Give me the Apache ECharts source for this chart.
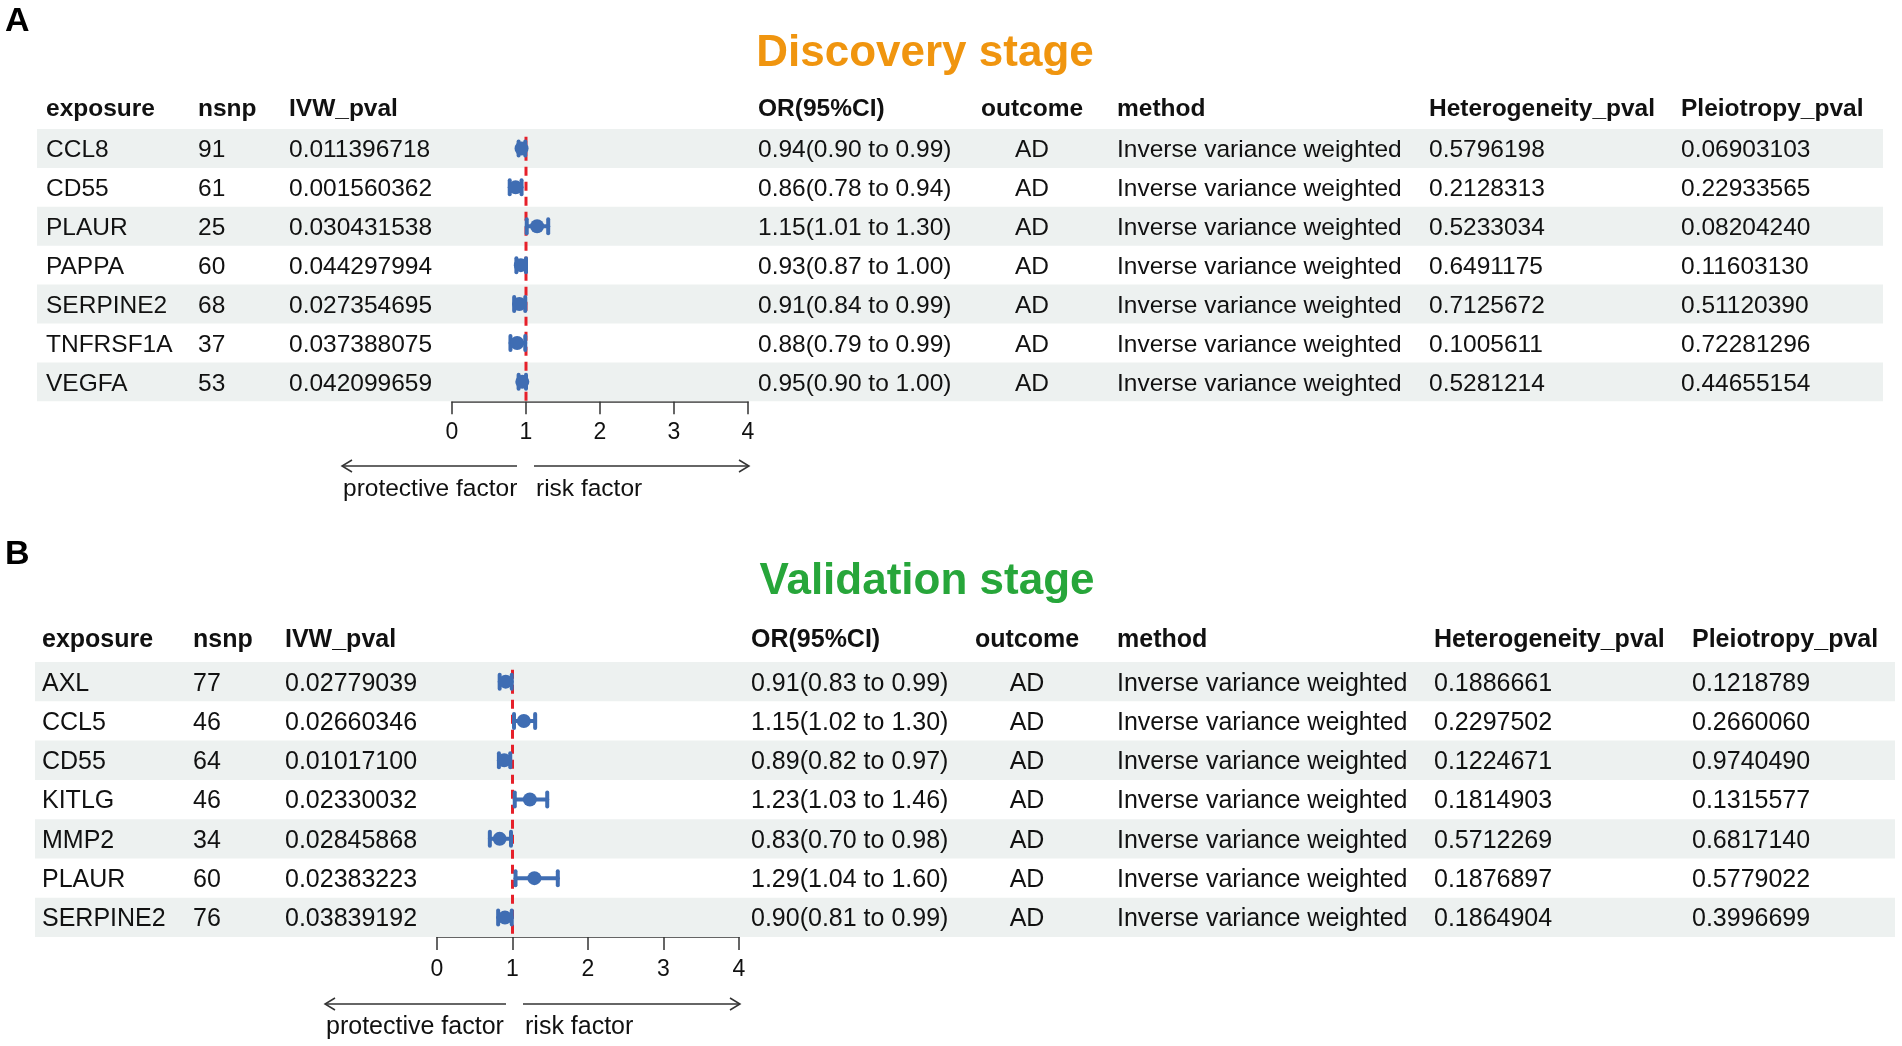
<!DOCTYPE html>
<html>
<head>
<meta charset="utf-8">
<title>MR forest tables</title>
<script src="https://cdn.jsdelivr.net/npm/echarts@6.0.0/dist/echarts.min.js"></script>
<style>
    html, body { margin: 0; padding: 0; background: #ffffff; }
    #main { width: 1902px; height: 1046px; }
</style>
</head>
<body>
<div id="main"></div>
<script>
    // ---- A: discovery stage ----
    var exposureA = ['CCL8', 'CD55', 'PLAUR', 'PAPPA', 'SERPINE2', 'TNFRSF1A', 'VEGFA'];
    var nsnpA = [91, 61, 25, 60, 68, 37, 53];
    var ivwA = ['0.011396718', '0.001560362', '0.030431538', '0.044297994', '0.027354695', '0.037388075', '0.042099659'];
    var orA = [0.94, 0.86, 1.15, 0.93, 0.91, 0.88, 0.95];
    var loA = [0.90, 0.78, 1.01, 0.87, 0.84, 0.79, 0.90];
    var hiA = [0.99, 0.94, 1.30, 1.00, 0.99, 0.99, 1.00];
    var hetA = ['0.5796198', '0.2128313', '0.5233034', '0.6491175', '0.7125672', '0.1005611', '0.5281214'];
    var pleA = ['0.06903103', '0.22933565', '0.08204240', '0.11603130', '0.51120390', '0.72281296', '0.44655154'];

    // ---- B: validation stage ----
    var exposureB = ['AXL', 'CCL5', 'CD55', 'KITLG', 'MMP2', 'PLAUR', 'SERPINE2'];
    var nsnpB = [77, 46, 64, 46, 34, 60, 76];
    var ivwB = ['0.02779039', '0.02660346', '0.01017100', '0.02330032', '0.02845868', '0.02383223', '0.03839192'];
    var orB = [0.91, 1.15, 0.89, 1.23, 0.83, 1.29, 0.90];
    var loB = [0.83, 1.02, 0.82, 1.03, 0.70, 1.04, 0.81];
    var hiB = [0.99, 1.30, 0.97, 1.46, 0.98, 1.60, 0.99];
    var hetB = ['0.1886661', '0.2297502', '0.1224671', '0.1814903', '0.5712269', '0.1876897', '0.1864904'];
    var pleB = ['0.1218789', '0.2660060', '0.9740490', '0.1315577', '0.6817140', '0.5779022', '0.3996699'];

    var OUTCOME = 'AD';
    var METHOD = 'Inverse variance weighted';
    var headers = ['exposure', 'nsnp', 'IVW_pval', 'OR(95%CI)', 'outcome', 'method', 'Heterogeneity_pval', 'Pleiotropy_pval'];
    var orTicks = [0, 1, 2, 3, 4];
    var NULL_OR = 1;

    // ---- look ----
    var FONT = '"Liberation Sans", Arial, Helvetica, sans-serif';
    var BAND = '#EDF1F0';
    var INK = '#111111';
    var BLUE = '#3F6DB3';
    var RED = '#E6202A';

    var panels = [
        {
            letter: 'A', title: 'Discovery stage', titleColor: '#F0950F',
            exposure: exposureA, nsnp: nsnpA, ivw: ivwA, or: orA, lo: loA, hi: hiA, het: hetA, ple: pleA,
            top: 129, rowH: 38.9, bandL: 37, bandR: 1883, headY: 109, fs: 24.5,
            cols: [46, 198, 289, 758, 1032, 1117, 1429, 1681],
            x0: 452, x1: 748, letterY: 22, titleX: 925, titleY: 54,
            arrowY: 466, arrowL: [342, 517], arrowR: [534, 749], labY: 489, labMargin: 20
        },
        {
            letter: 'B', title: 'Validation stage', titleColor: '#27A63A',
            exposure: exposureB, nsnp: nsnpB, ivw: ivwB, or: orB, lo: loB, hi: hiB, het: hetB, ple: pleB,
            top: 662, rowH: 39.3, bandL: 35, bandR: 1895, headY: 640, fs: 25,
            cols: [42, 193, 285, 751, 1027, 1117, 1434, 1692],
            x0: 437, x1: 739, letterY: 555, titleX: 927, titleY: 582,
            arrowY: 1004, arrowL: [325, 506], arrowR: [523, 740], labY: 1027, labMargin: 21
        }
    ];

    function fmt(v) { return v.toFixed(2); }

    var grids = [], xAxes = [], yAxes = [], series = [], graphic = [];

    panels.forEach(function (p, k) {
        var n = p.exposure.length;
        var h = p.rowH * n;
        var rowIdx = p.exposure.map(function (d, i) { return i; });
        var cats = p.exposure.slice();
        var gT = 2 * k, gF = 2 * k + 1;
        var yT = yAxes.length;

        // table grid (x in pixels from band left)
        grids.push({ left: p.bandL, top: p.top, width: p.bandR - p.bandL, height: h });
        xAxes.push({ gridIndex: gT, type: 'value', min: 0, max: p.bandR - p.bandL, show: false });
        yAxes.push({ gridIndex: gT, type: 'value', min: -0.5, max: n - 0.5, inverse: true, show: false });

        // forest grid
        grids.push({ left: p.x0, top: p.top, width: p.x1 - p.x0, height: h });
        xAxes.push({
            gridIndex: gF, type: 'value', min: orTicks[0], max: orTicks[orTicks.length - 1], interval: 1,
            position: 'bottom',
            axisLine: { show: true, onZero: false, lineStyle: { color: '#333', width: 1.5 } },
            axisTick: { show: true, length: 13, lineStyle: { color: '#333', width: 1.5 } },
            axisLabel: { fontSize: 23, fontFamily: FONT, color: INK, margin: p.labMargin },
            splitLine: { show: false }
        });
        var yF = yAxes.length;
        yAxes.push({ gridIndex: gF, type: 'value', min: -0.5, max: n - 0.5, inverse: true, show: false });

        // table rows: bands + cell texts
        series.push({
            type: 'custom',
            xAxisIndex: gT, yAxisIndex: yT,
            z: 1, silent: true, animation: false,
            data: rowIdx.map(function (i) { return [0, i]; }),
            encode: { x: 0, y: 1 },
            renderItem: function (params, api) {
                var i = api.value(1);
                var c = api.coord([0, i]);
                var bh = api.size([0, 1])[1];
                var kids = [];
                if (i % 2 === 0) {
                    kids.push({
                        type: 'rect',
                        shape: { x: c[0], y: c[1] - bh / 2, width: p.bandR - p.bandL, height: bh },
                        style: { fill: BAND }
                    });
                }
                var cells = [
                    [cats[i], 'left'],
                    [String(p.nsnp[i]), 'left'],
                    [p.ivw[i], 'left'],
                    [fmt(p.or[i]) + '(' + fmt(p.lo[i]) + ' to ' + fmt(p.hi[i]) + ')', 'left'],
                    [OUTCOME, 'center'],
                    [METHOD, 'left'],
                    [p.het[i], 'left'],
                    [p.ple[i], 'left']
                ];
                cells.forEach(function (cell, j) {
                    kids.push({
                        type: 'text',
                        style: {
                            x: c[0] + p.cols[j] - p.bandL, y: c[1] + 2,
                            text: cell[0], align: cell[1], verticalAlign: 'middle',
                            fontSize: p.fs, fontFamily: FONT, fill: INK
                        }
                    });
                });
                return { type: 'group', children: kids };
            }
        });

        // dashed reference line at OR = 1
        series.push({
            type: 'line',
            xAxisIndex: gF, yAxisIndex: yF,
            z: 2, silent: true, animation: false, symbol: 'none',
            data: [[NULL_OR, -0.3], [NULL_OR, n - 0.5]],
            lineStyle: { color: RED, width: 3, type: [9, 6] }
        });

        // forest marks
        series.push({
            type: 'custom',
            xAxisIndex: gF, yAxisIndex: yF,
            z: 3, silent: true, animation: false, clip: false,
            data: rowIdx.map(function (i) { return [p.or[i], p.lo[i], p.hi[i], i]; }),
            encode: { x: [0, 1, 2], y: 3 },
            renderItem: function (params, api) {
                var i = api.value(3);
                var po = api.coord([api.value(0), i]);
                var pl = api.coord([api.value(1), i]);
                var ph = api.coord([api.value(2), i]);
                var cap = 7;
                var st = { stroke: BLUE, lineWidth: 4, lineCap: 'round' };
                return {
                    type: 'group',
                    children: [
                        { type: 'line', shape: { x1: pl[0], y1: pl[1], x2: ph[0], y2: ph[1] }, style: st },
                        { type: 'line', shape: { x1: pl[0], y1: pl[1] - cap, x2: pl[0], y2: pl[1] + cap }, style: st },
                        { type: 'line', shape: { x1: ph[0], y1: ph[1] - cap, x2: ph[0], y2: ph[1] + cap }, style: st },
                        { type: 'circle', shape: { cx: po[0], cy: po[1], r: 7 }, style: { fill: BLUE } }
                    ]
                };
            }
        });

        // panel letter, title, header, direction arrows
        graphic.push({ type: 'text', x: 5, y: p.letterY,
            style: { text: p.letter, verticalAlign: 'middle', fontSize: 34, fontWeight: 'bold', fontFamily: FONT, fill: '#000' } });
        graphic.push({ type: 'text', x: p.titleX, y: p.titleY,
            style: { text: p.title, align: 'center', verticalAlign: 'middle', fontSize: 44, fontWeight: 'bold', fontFamily: FONT, fill: p.titleColor } });
        headers.forEach(function (t, j) {
            graphic.push({ type: 'text', x: p.cols[j], y: p.headY,
                style: { text: t, align: j === 4 ? 'center' : 'left', verticalAlign: 'middle', fontSize: p.fs, fontWeight: 'bold', fontFamily: FONT, fill: INK } });
        });
        var ay = p.arrowY, aS = { stroke: '#333', lineWidth: 1.5, fill: null };
        graphic.push({ type: 'polyline', shape: { points: [[p.arrowL[0], ay], [p.arrowL[1], ay]] }, style: aS });
        graphic.push({ type: 'polyline', shape: { points: [[p.arrowL[0] + 10, ay - 6], [p.arrowL[0], ay], [p.arrowL[0] + 10, ay + 6]] }, style: aS });
        graphic.push({ type: 'polyline', shape: { points: [[p.arrowR[0], ay], [p.arrowR[1], ay]] }, style: aS });
        graphic.push({ type: 'polyline', shape: { points: [[p.arrowR[1] - 10, ay - 6], [p.arrowR[1], ay], [p.arrowR[1] - 10, ay + 6]] }, style: aS });
        graphic.push({ type: 'text', x: p.arrowL[0] + 1, y: p.labY,
            style: { text: 'protective factor', align: 'left', verticalAlign: 'middle', fontSize: p.fs, fontFamily: FONT, fill: INK } });
        graphic.push({ type: 'text', x: p.arrowR[0] + 2, y: p.labY,
            style: { text: 'risk factor', align: 'left', verticalAlign: 'middle', fontSize: p.fs, fontFamily: FONT, fill: INK } });
    });

    var option = {
        backgroundColor: '#ffffff',
        animation: false,
        grid: grids,
        xAxis: xAxes,
        yAxis: yAxes,
        series: series,
        graphic: graphic
    };

    var myChart = echarts.init(document.getElementById('main'));
    myChart.setOption(option);
</script>
</body>
</html>
